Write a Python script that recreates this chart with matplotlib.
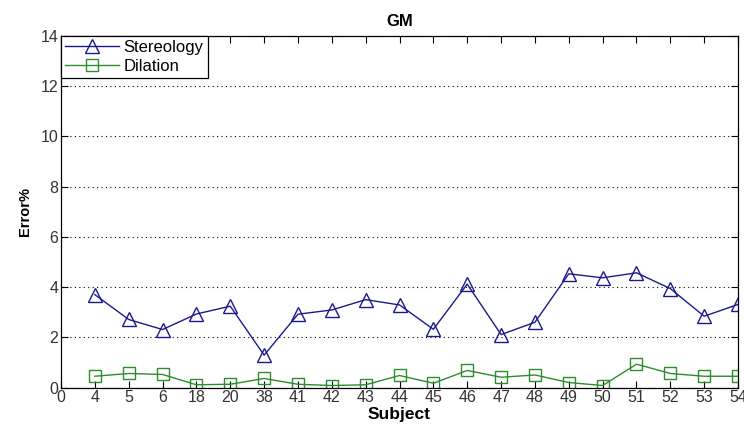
import matplotlib.pyplot as plt

subjects = ["0", "4", "5", "6", "18", "20", "38", "41", "42", "43", "44",
            "45", "46", "47", "48", "49", "50", "51", "52", "53", "54"]
stereology = [3.70, 2.71, 2.31, 2.93, 3.24, 1.29, 2.92, 3.09, 3.50, 3.29,
              2.32, 4.12, 2.11, 2.60, 4.53, 4.37, 4.57, 3.94, 2.84, 3.31]
dilation = [0.45, 0.56, 0.52, 0.11, 0.13, 0.36, 0.13, 0.08, 0.11, 0.48,
            0.17, 0.68, 0.41, 0.50, 0.20, 0.08, 0.93, 0.56, 0.45, 0.45]

plt.rcParams['font.family'] = ['Liberation Sans', 'DejaVu Sans']

fig = plt.figure(figsize=(7.44, 4.24), dpi=100)
ax = fig.add_axes([0.082, 0.086, 0.910, 0.829])

x = list(range(1, len(stereology) + 1))
ax.plot(x, stereology, color="#1a1a8c", linewidth=1, marker="^", markersize=9.5,
        markerfacecolor="none", markeredgecolor="#1a1a8c", label="Stereology")
ax.plot(x, dilation, color="#2e8b2e", linewidth=1, marker="s", markersize=8.5,
        markerfacecolor="none", markeredgecolor="#2e8b2e", label="Dilation")

ax.set_xlim(0, 20)
ax.set_ylim(0, 14)
ax.set_xticks(range(len(subjects)))
ax.set_xticklabels(subjects)
ax.set_yticks(range(0, 15, 2))
ax.tick_params(direction="in", length=5, top=True, right=True, labelsize=11.5,
               pad=2, labelcolor="#333333")
ax.yaxis.grid(True, linestyle=(0, (1, 3)), color="black", linewidth=0.8)
for s in ax.spines.values():
    s.set_linewidth(0.9)

ax.set_title("GM", fontweight="bold", fontsize=12, pad=7)
ax.set_xlabel("Subject", fontweight="bold", fontsize=12.5, labelpad=1)
ax.set_ylabel("Error%", fontweight="bold", fontsize=10.5, labelpad=6)

leg = ax.legend(loc="upper left", fancybox=False, framealpha=1, edgecolor="black",
                fontsize=12, borderaxespad=0, handlelength=3.2,
                borderpad=0.25, labelspacing=0.2, handletextpad=0.3)
leg.get_frame().set_linewidth(0.9)

fig.savefig("out.png", dpi=100)
